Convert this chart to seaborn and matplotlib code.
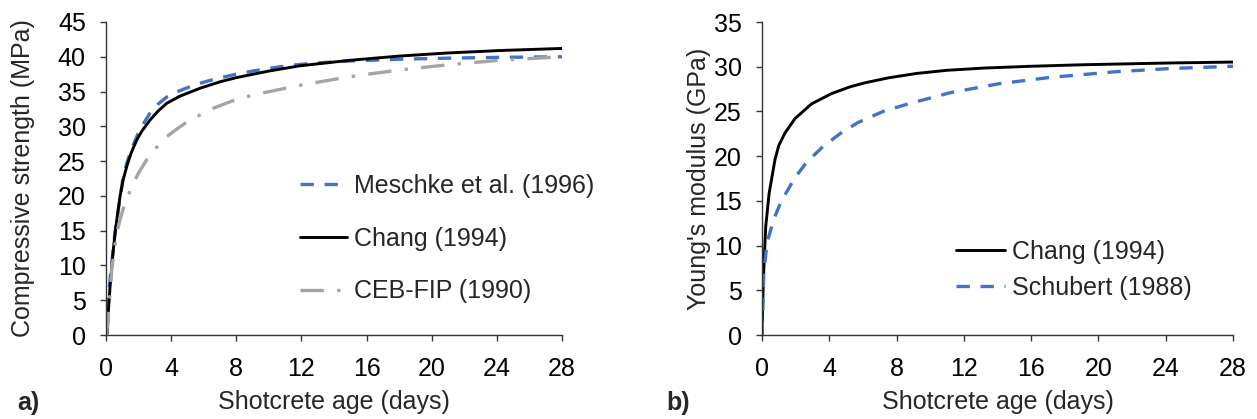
import matplotlib
matplotlib.use("Agg")
import matplotlib.pyplot as plt
import seaborn as sns

# ==============================================
# Data
# ==============================================

# a) compressive strength (MPa) vs shotcrete age (days)
meschke_days = [0, 0.04, 0.25, 0.55, 1.06, 1.3, 1.58, 2.09, 2.7, 3.2, 3.72, 4.4, 5.15, 6.0, 6.79, 8.0, 9.0,
                10.5, 11.9, 13.5, 15.0, 18.0, 21.0, 24.2, 28]
meschke_fc = [0, 2.2, 8.0, 14.7, 22.8, 24.9, 26.8, 29.6, 31.9, 33.2, 34.2, 35.0, 35.7, 36.35, 36.85, 37.5, 37.95,
              38.5, 38.9, 39.2, 39.4, 39.65, 39.8, 39.92, 40.0]

chang_fc_days = [0, 0.08, 0.14, 0.25, 0.45, 0.6, 0.86, 1.05, 1.27, 1.55, 1.88, 2.2, 2.7, 3.2, 3.72, 4.5, 5.8,
                 7.0, 8.0, 10.0, 11.9, 15.0, 18.0, 21.0, 24.2, 28]
chang_fc = [0, 0.3, 3.2, 7.0, 12.3, 15.5, 19.9, 22.3, 24.2, 26.2, 28.0, 29.3, 30.9, 32.2, 33.3, 34.3, 35.5,
            36.4, 37.0, 37.95, 38.7, 39.5, 40.1, 40.55, 40.9, 41.2]

ceb_days = [0, 0.05, 0.2, 0.35, 0.66, 0.9, 1.17, 1.68, 2.0, 2.5, 3.0, 3.72, 4.4, 5.15, 6.58, 7.7, 9.0, 11.9,
            15.0, 18.0, 21.0, 24.2, 28]
ceb_fc = [0, 0.4, 4.5, 9.4, 14.7, 16.9, 19.0, 21.8, 23.3, 25.2, 26.7, 28.5, 29.7, 30.9, 32.6, 33.6, 34.5, 35.9,
          37.15, 38.1, 38.85, 39.5, 40.0]

# b) Young's modulus (GPa) vs shotcrete age (days)
chang_e_days = [0, 0.03, 0.08, 0.22, 0.42, 0.77, 1.0, 1.37, 1.96, 2.95, 4.14, 5.23, 6.12, 7.5, 9.2, 11.0, 13.2,
                16.0, 19.1, 24.3, 28]
chang_e = [0, 2.5, 6.2, 12.1, 15.8, 19.6, 21.2, 22.6, 24.2, 25.85, 27.0, 27.75, 28.2, 28.75, 29.25, 29.6, 29.85,
           30.05, 30.22, 30.42, 30.52]

schubert_days = [0, 0.03, 0.1, 0.3, 0.67, 1.13, 1.96, 2.65, 3.64, 4.74, 5.7, 7.2, 8.8, 11.2, 14.1, 17.1, 21.1,
                 24.3, 28]
schubert_e = [0, 1.7, 6.9, 10.3, 12.8, 14.9, 17.6, 19.3, 21.1, 22.65, 23.75, 25.0, 25.9, 27.1, 28.1, 28.8, 29.45,
              29.8, 30.05]

x_ticks = [0, 4, 8, 12, 16, 20, 24, 28]

# ==============================================
# Styling
# ==============================================
sns.set_style("white")
plt.rcParams["font.family"] = ["Liberation Sans", "DejaVu Sans"]
FS = 18
AXIS_COLOR = "#333333"
BLUE = "#4472C4"
GREY = "#A5A5A5"

fig = plt.figure(figsize=(12.57, 4.19), dpi=100)
W, H = 1257, 419
ax1 = fig.add_axes([106 / W, (H - 335) / H, 456 / W, 313 / H])
ax2 = fig.add_axes([762 / W, (H - 335) / H, 471 / W, 313 / H])

# ---- panel a ----
sns.lineplot(x=meschke_days, y=meschke_fc, ax=ax1, color=BLUE, linewidth=2.4,
             linestyle=(0, (4, 3.2)), label="Meschke et al. (1996)")
sns.lineplot(x=chang_fc_days, y=chang_fc, ax=ax1, color="black", linewidth=2.1,
             label="Chang (1994)")
sns.lineplot(x=ceb_days, y=ceb_fc, ax=ax1, color=GREY, linewidth=2.4,
             linestyle=(0, (7, 4, 1, 4)), label="CEB-FIP (1990)")

# ---- panel b ----
sns.lineplot(x=chang_e_days, y=chang_e, ax=ax2, color="black", linewidth=2.1,
             label="Chang (1994)")
sns.lineplot(x=schubert_days, y=schubert_e, ax=ax2, color=BLUE, linewidth=2.4,
             linestyle=(0, (4, 3.2)), label="Schubert (1988)")

for ax, ymax in [(ax1, 45), (ax2, 35)]:
    ax.set_xlim(0, 28)
    ax.set_ylim(0, ymax)
    ax.set_xticks(x_ticks)
    ax.set_yticks(range(0, ymax + 1, 5))
    for side in ["top", "right"]:
        ax.spines[side].set_visible(False)
    for side in ["left", "bottom"]:
        ax.spines[side].set_color(AXIS_COLOR)
        ax.spines[side].set_linewidth(1.0)
    ax.tick_params(axis="both", direction="out", length=4.5, width=1.0,
                   color=AXIS_COLOR, labelsize=FS, labelcolor="black",
                   left=True, bottom=True)
    ax.tick_params(axis="x", pad=11)
    ax.tick_params(axis="y", pad=10)
    ax.set_xlabel("Shotcrete age (days)", fontsize=FS)
    ax.xaxis.set_label_coords(0.5, -0.176)

ax1.set_ylabel("Compressive strength (MPa)", fontsize=FS)
ax1.yaxis.set_label_coords(-0.156, 0.5)
ax2.set_ylabel("Young's modulus (GPa)", fontsize=FS)
ax2.yaxis.set_label_coords(-0.108, 0.5)

ax1.legend(loc="upper left", bbox_to_anchor=(0.425, 0.515), frameon=False,
           fontsize=FS, handlelength=1.88, handletextpad=0.28,
           labelspacing=1.15, borderpad=0, borderaxespad=0)
ax2.legend(loc="upper left", bbox_to_anchor=(0.412, 0.305), frameon=False,
           fontsize=FS, handlelength=1.96, handletextpad=0.28,
           labelspacing=0.49, borderpad=0, borderaxespad=0)

fig.text(17 / W, 1 - 410 / H, "a)", fontsize=FS, fontweight="bold", va="baseline")
fig.text(666 / W, 1 - 410 / H, "b)", fontsize=FS, fontweight="bold", va="baseline")

fig.savefig("out.png", dpi=100)
